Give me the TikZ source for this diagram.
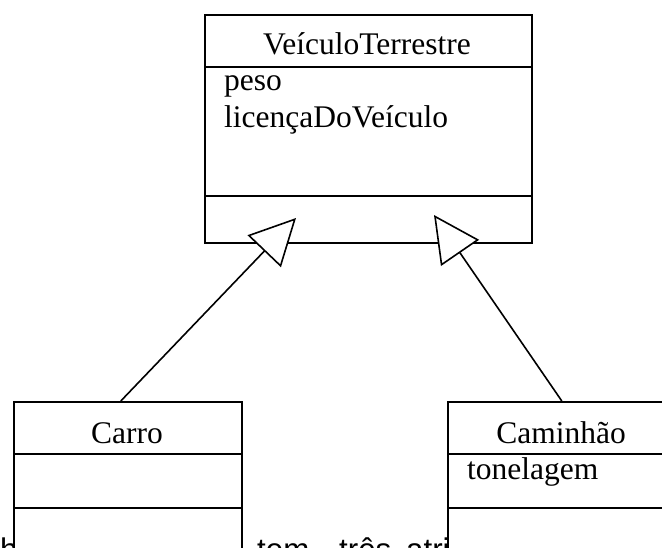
\documentclass[tikz,border=0pt]{standalone}
\usepackage{fontspec}
\setmainfont{Liberation Serif}
\newfontfamily\arialfont{Liberation Sans}
\usetikzlibrary{arrows.meta}
\begin{document}
\begin{tikzpicture}[x=1pt,y=-1pt,
  box/.style={draw, line width=1.6pt, fill=white, inner sep=0pt, anchor=north west},
  lbl/.style={font=\fontsize{31.5}{36}\selectfont, inner sep=0pt, anchor=base},
  attr/.style={font=\fontsize{31.5}{36}\selectfont, inner sep=0pt, anchor=base west},
  para/.style={font=\arialfont\fontsize{31.3}{36}\selectfont, inner sep=0pt, anchor=base west},
  gen/.style={line width=1.6pt, -{Triangle[length=46pt,width=46pt,fill=white,line width=1.6pt]}},
  sep/.style={line width=1.6pt}]
\useasboundingbox (0,0) rectangle (662,547);
\fill[white] (0,0) rectangle (662,547);
\clip (0,0) rectangle (662,547);
% paragraph text behind the boxes
\node[para] (p1) at (0,560) {h};
\node[para] (p2) at (257,560) {tem};
\node[para] (p3) at (339,560) {três};
\node[para] (p4) at (406,560) {atri};
% class boxes
\node[box, minimum width=327pt, minimum height=228pt] (veh) at (204,14) {};
\node[box, minimum width=228pt, minimum height=200pt] (carro) at (13,401) {};
\node[box, minimum width=228pt, minimum height=200pt] (cam) at (447,401) {};
% compartments
\draw[sep] (204,67) -- (531,67);
\draw[sep] (204,196) -- (531,196);
\draw[sep] (13,454) -- (241,454);
\draw[sep] (13,508) -- (241,508);
\draw[sep] (447,454) -- (675,454);
\draw[sep] (447,508) -- (675,508);
% texts
\node[lbl] (vehT) at (367,54) {VeículoTerrestre};
\node[attr] (a1) at (224,90) {peso};
\node[attr] (a2) at (224,127) {licençaDoVeículo};
\node[lbl] (carT) at (127,443) {Carro};
\node[lbl] (camT) at (561,443) {Caminhão};
\node[attr] (a3) at (467,479) {tonelagem};
% generalization connectors
\coordinate (tipL) at (296,218);
\coordinate (tipR) at (434,215);
\draw[gen] ([xshift=-7pt]carro.north) -- (tipL);
\draw[gen] (cam.north) -- (tipR);
\end{tikzpicture}
\end{document}
